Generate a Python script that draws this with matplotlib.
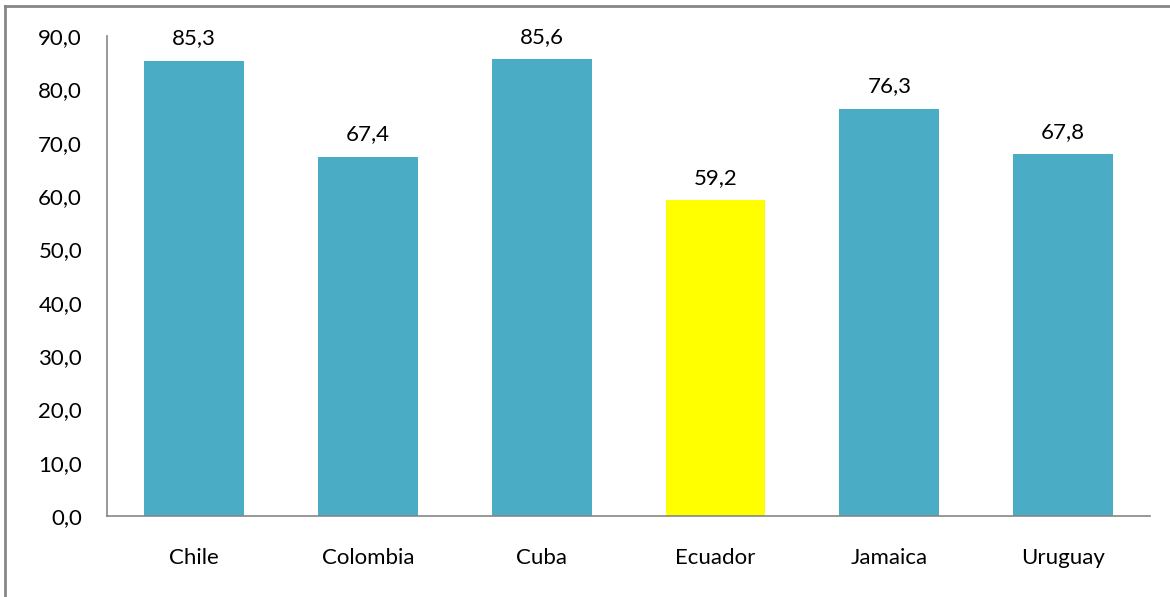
import matplotlib.pyplot as plt
from matplotlib.lines import Line2D

paises = ["Chile", "Colombia", "Cuba", "Ecuador", "Jamaica", "Uruguay"]
valores = [85.3, 67.4, 85.6, 59.2, 76.3, 67.8]
colores = ["#4BACC6", "#4BACC6", "#4BACC6", "#FFFF00", "#4BACC6", "#4BACC6"]
yticks = [0, 10, 20, 30, 40, 50, 60, 70, 80, 90]

plt.rcParams["font.family"] = ["Lato", "DejaVu Sans"]

fig = plt.figure(figsize=(11.7, 5.97), dpi=100)
ax = fig.add_axes([0.0915, 0.1357, 0.983 - 0.0915, 0.9397 - 0.1357])

x = range(len(paises))
ax.bar(x, valores, width=0.575, color=colores)

for xi, v in zip(x, valores):
    ax.annotate(f"{v:.1f}".replace(".", ","), (xi, v), xytext=(0, 9),
                textcoords="offset points", ha="center", va="bottom",
                fontsize=16, color="#000000")

ax.set_xlim(-0.5, len(paises) - 0.5)
ax.set_ylim(0, 90)
ax.set_yticks(yticks)
ax.set_yticklabels([f"{t:.1f}".replace(".", ",") for t in yticks], fontsize=16)
ax.set_xticks(list(x))
ax.set_xticklabels(paises, fontsize=16)
ax.tick_params(axis="y", length=0, pad=18)
ax.tick_params(axis="x", length=0, pad=23)

for side in ["top", "right"]:
    ax.spines[side].set_visible(False)
for side in ["left", "bottom"]:
    ax.spines[side].set_color("#868686")
    ax.spines[side].set_linewidth(1.2)

# marco gris: solo borde superior e izquierdo
x0, y0 = 5 / 1170, 1 - 6 / 597
fig.lines.append(Line2D([x0, 1], [y0, y0], transform=fig.transFigure,
                        color="#868686", linewidth=2))
fig.lines.append(Line2D([x0, x0], [0, y0], transform=fig.transFigure,
                        color="#868686", linewidth=2))

fig.savefig("out.png", dpi=100)
